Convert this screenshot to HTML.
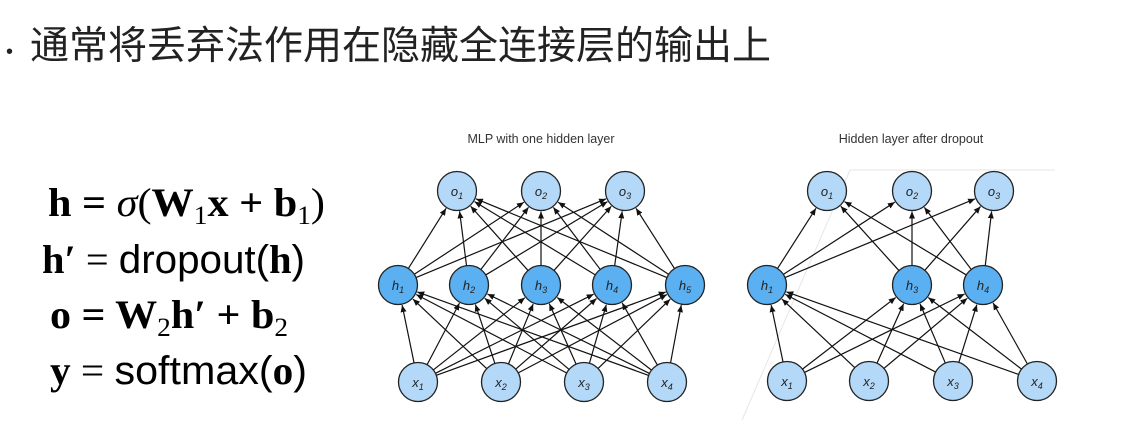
<!DOCTYPE html>
<html><head><meta charset="utf-8"><style>
html,body{margin:0;padding:0;background:#fff;width:1127px;height:439px;overflow:hidden}
svg{position:absolute;left:0;top:0}
.t{font-family:"Liberation Sans","Noto Sans CJK SC",sans-serif}
.eq{font-family:"Liberation Serif",serif;font-size:40px;font-weight:bold}
.sn{font-family:"Liberation Sans",sans-serif;font-weight:normal}
.lab{font-family:"Liberation Sans",sans-serif;font-style:italic;font-size:13px;fill:#222}
</style></head><body>
<svg width="1127" height="439" xmlns="http://www.w3.org/2000/svg">
<defs><marker id="a" markerWidth="8" markerHeight="8" refX="7" refY="4" orient="auto" markerUnits="userSpaceOnUse"><path d="M0,1 L7,4 L0,7 z" fill="#111"/></marker></defs>
<text x="6" y="58" class="t" font-size="20" fill="#222">•</text>
<text x="30" y="59" class="t" font-size="39" fill="#222">通常将丢弃法作用在隐藏全连接层的输出上</text>
<text x="48" y="216" class="eq" textLength="277" lengthAdjust="spacingAndGlyphs">h = <tspan font-style="italic" font-weight="normal">σ</tspan><tspan font-weight="normal">(</tspan>W<tspan font-size="26" font-weight="normal" dy="8">1</tspan><tspan dy="-8">x + b</tspan><tspan font-size="26" font-weight="normal" dy="8">1</tspan><tspan dy="-8" font-weight="normal">)</tspan></text>
<text x="42" y="273" class="eq" textLength="263" lengthAdjust="spacingAndGlyphs">h′ <tspan font-weight="normal">=</tspan> <tspan class="sn">dropout(</tspan>h<tspan class="sn">)</tspan></text>
<text x="50" y="328" class="eq" textLength="238" lengthAdjust="spacingAndGlyphs">o = W<tspan font-size="26" font-weight="normal" dy="8">2</tspan><tspan dy="-8">h′ + b</tspan><tspan font-size="26" font-weight="normal" dy="8">2</tspan></text>
<text x="50" y="384" class="eq" textLength="257" lengthAdjust="spacingAndGlyphs">y <tspan font-weight="normal">=</tspan> <tspan class="sn">softmax(</tspan>o<tspan class="sn">)</tspan></text>
<text x="541" y="143" text-anchor="middle" class="t" font-size="12.5" fill="#333">MLP with one hidden layer</text>
<text x="911" y="143" text-anchor="middle" class="t" font-size="12.5" fill="#333">Hidden layer after dropout</text>
<polyline points="742,420 850,170 1055,170" fill="none" stroke="#e6e6e6" stroke-width="1"/>
<g id="edges" stroke="#111" stroke-width="1.2" fill="none"></g>
<g id="nodes"></g>
<g class="lab">
<text x="457" y="196" text-anchor="middle">o<tspan font-size="9" dy="3">1</tspan></text>
<text x="541" y="196" text-anchor="middle">o<tspan font-size="9" dy="3">2</tspan></text>
<text x="625" y="196" text-anchor="middle">o<tspan font-size="9" dy="3">3</tspan></text>
<text x="398" y="290" text-anchor="middle">h<tspan font-size="9" dy="3">1</tspan></text>
<text x="469" y="290" text-anchor="middle">h<tspan font-size="9" dy="3">2</tspan></text>
<text x="541" y="290" text-anchor="middle">h<tspan font-size="9" dy="3">3</tspan></text>
<text x="612" y="290" text-anchor="middle">h<tspan font-size="9" dy="3">4</tspan></text>
<text x="685" y="290" text-anchor="middle">h<tspan font-size="9" dy="3">5</tspan></text>
<text x="418" y="387" text-anchor="middle">x<tspan font-size="9" dy="3">1</tspan></text>
<text x="501" y="387" text-anchor="middle">x<tspan font-size="9" dy="3">2</tspan></text>
<text x="584" y="387" text-anchor="middle">x<tspan font-size="9" dy="3">3</tspan></text>
<text x="667" y="387" text-anchor="middle">x<tspan font-size="9" dy="3">4</tspan></text>
<text x="827" y="196" text-anchor="middle">o<tspan font-size="9" dy="3">1</tspan></text>
<text x="912" y="196" text-anchor="middle">o<tspan font-size="9" dy="3">2</tspan></text>
<text x="994" y="196" text-anchor="middle">o<tspan font-size="9" dy="3">3</tspan></text>
<text x="767" y="290" text-anchor="middle">h<tspan font-size="9" dy="3">1</tspan></text>
<text x="912" y="290" text-anchor="middle">h<tspan font-size="9" dy="3">3</tspan></text>
<text x="983" y="290" text-anchor="middle">h<tspan font-size="9" dy="3">4</tspan></text>
<text x="787" y="386" text-anchor="middle">x<tspan font-size="9" dy="3">1</tspan></text>
<text x="869" y="386" text-anchor="middle">x<tspan font-size="9" dy="3">2</tspan></text>
<text x="953" y="386" text-anchor="middle">x<tspan font-size="9" dy="3">3</tspan></text>
<text x="1037" y="386" text-anchor="middle">x<tspan font-size="9" dy="3">4</tspan></text>
</g>
</svg>
<script>
(function(){
var R=19.5,NS="http://www.w3.org/2000/svg";
var E=document.getElementById("edges"),N=document.getElementById("nodes");
function ln(a,b){var dx=b[0]-a[0],dy=b[1]-a[1],d=Math.hypot(dx,dy),ux=dx/d,uy=dy/d;
var l=document.createElementNS(NS,"line");l.setAttribute("x1",a[0]+ux*R);l.setAttribute("y1",a[1]+uy*R);
l.setAttribute("x2",b[0]-ux*(R+1));l.setAttribute("y2",b[1]-uy*(R+1));l.setAttribute("marker-end","url(#a)");E.appendChild(l);}
function c(p,f){var e=document.createElementNS(NS,"circle");e.setAttribute("cx",p[0]);e.setAttribute("cy",p[1]);e.setAttribute("r",R);
e.setAttribute("fill",f);e.setAttribute("stroke","#222");e.setAttribute("stroke-width","1.3");N.appendChild(e);}
function net(o,h,x){x.forEach(function(a){h.forEach(function(b){ln(a,b)})});h.forEach(function(a){o.forEach(function(b){ln(a,b)})});
o.concat(x).forEach(function(p){c(p,"#b3d8f8")});h.forEach(function(p){c(p,"#5ab0f0")});}
net([[457,191],[541,191],[625,191]],[[398,285],[469,285],[541,285],[612,285],[685,285]],[[418,382],[501,382],[584,382],[667,382]]);
net([[827,191],[912,191],[994,191]],[[767,285],[912,285],[983,285]],[[787,381],[869,381],[953,381],[1037,381]]);
})();
</script>
</body></html>
